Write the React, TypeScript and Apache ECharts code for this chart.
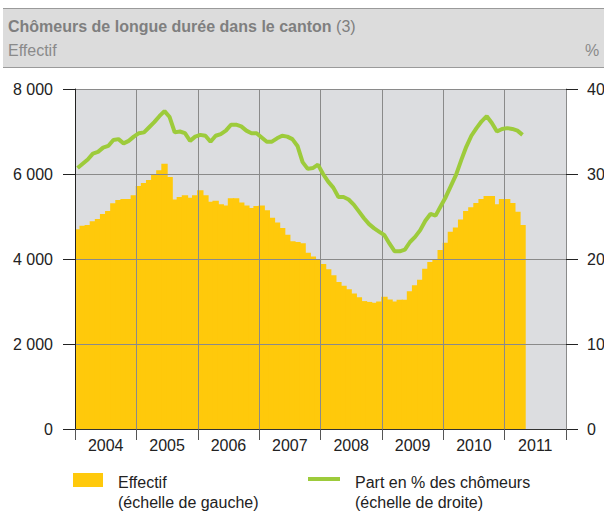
import React, { useEffect, useRef } from "react";
import * as echarts from "echarts";

// Years shown on the x axis
const years = ["2004", "2005", "2006", "2007", "2008", "2009", "2010", "2011"];
// Monthly categories (Jan 2004 .. Dec 2011)
const months: string[] = [];
years.forEach((y) => {
  for (let m = 1; m <= 12; m++) months.push(`${y}-${m < 10 ? "0" + m : m}`);
});

// Effectif (left scale), monthly Jan 2004 .. Apr 2011
const effectif = [
  4700, 4780, 4800, 4890, 4940, 5060, 5130, 5310, 5390, 5410, 5410, 5500,
  5720, 5790, 5860, 5980, 6090, 6240, 5930, 5400, 5460, 5500, 5440, 5500,
  5620, 5500, 5350, 5370, 5290, 5260, 5430, 5430, 5330, 5260, 5200, 5250,
  5260, 5150, 4970, 4860, 4730, 4570, 4420, 4400, 4370, 4150, 4060, 3990,
  3880, 3760, 3620, 3460, 3370, 3290, 3190, 3100, 3010, 2990, 2970, 3000,
  3110, 3050, 3000, 3040, 3040, 3240, 3380, 3510, 3770, 3930, 3990, 4210,
  4380, 4640, 4740, 4930, 5130, 5220, 5320, 5410, 5480, 5480, 5290, 5410,
  5410, 5320, 5110, 4800,
];

// Part en % des chômeurs (right scale)
const part = [
  30.7, 31.2, 31.7, 32.4, 32.6, 33.1, 33.3, 34.0, 34.1, 33.6, 33.9, 34.4,
  34.8, 34.9, 35.5, 36.1, 36.8, 37.4, 36.7, 34.9, 35.0, 34.8, 33.9, 34.4,
  34.6, 34.5, 33.8, 34.5, 34.7, 35.1, 35.8, 35.8, 35.6, 35.1, 34.8, 34.8,
  34.3, 33.8, 33.8, 34.2, 34.5, 34.4, 34.1, 33.3, 31.4, 30.6, 30.7, 31.1,
  30.0, 29.1, 28.4, 27.3, 27.3, 27.0, 26.4, 25.6, 24.8, 24.1, 23.6, 23.2,
  22.8, 21.8, 20.9, 20.9, 21.1, 22.0, 22.6, 23.4, 24.5, 25.3, 25.1, 26.2,
  27.3, 28.6, 29.9, 31.6, 33.2, 34.5, 35.4, 36.2, 36.8, 36.0, 35.0, 35.3,
  35.4, 35.3, 35.1, 34.6,
];

const leftTicks = { min: 0, max: 8000, interval: 2000 };
const rightTicks = { min: 0, max: 40, interval: 10 };

const YELLOW = "#FFC90B";
const GREEN = "#9DCB3B";
const GRID = "#8a8a8a";
const FONT = "Liberation Sans";

export default function App() {
  const ref = useRef<HTMLDivElement>(null);
  useEffect(() => {
    if (!ref.current) return;
    const chart = echarts.init(ref.current, undefined, { renderer: "svg" });
    chart.setOption({
      animation: false,
      textStyle: { fontFamily: FONT },
      grid: {
        left: 75,
        right: 38,
        top: 89,
        bottom: 82,
        show: true,
        backgroundColor: "#dcdde0",
        borderWidth: 0,
        outerBoundsMode: "none",
      },
      xAxis: [
        {
          type: "category",
          data: months,
          show: false,
          position: "bottom",
          boundaryGap: true,
        },
        {
          type: "category",
          data: years,
          position: "bottom",
          boundaryGap: true,
          z: 3,
          axisLine: { show: true, lineStyle: { color: "#333", width: 1 } },
          axisTick: { show: true, length: 11, lineStyle: { color: "#555" } },
          axisLabel: { margin: 8, fontSize: 16, color: "#222", fontFamily: FONT },
          splitLine: { show: true, lineStyle: { color: GRID, width: 1 } },
        },
      ],
      yAxis: [
        {
          type: "value",
          position: "left",
          ...leftTicks,
          z: 3,
          axisLine: { show: true, lineStyle: { color: "#222" } },
          axisTick: { show: true, length: 12, lineStyle: { color: "#222" } },
          axisLabel: {
            margin: 22,
            fontSize: 16,
            color: "#222",
            fontFamily: FONT,
            formatter: (v: number) => (v === 0 ? "0" : `${v / 1000} 000`),
          },
          splitLine: { show: true, lineStyle: { color: GRID, width: 1 } },
        },
        {
          type: "value",
          position: "right",
          ...rightTicks,
          z: 3,
          axisLine: { show: true, lineStyle: { color: GRID } },
          axisTick: { show: true, length: 12, lineStyle: { color: "#222" } },
          axisLabel: { margin: 21, fontSize: 16, color: "#222", fontFamily: FONT },
          splitLine: { show: false },
        },
      ],
      series: [
        {
          name: "Effectif",
          type: "bar",
          xAxisIndex: 0,
          yAxisIndex: 0,
          data: effectif,
          barWidth: "125%",
          z: 1,
          itemStyle: { color: YELLOW },
        },
        {
          name: "Part en % des chômeurs",
          type: "line",
          xAxisIndex: 0,
          yAxisIndex: 1,
          data: part,
          z: 5,
          symbol: "none",
          lineStyle: { color: GREEN, width: 4 },
        },
      ],
      graphic: [
        {
          type: "rect",
          shape: { x: 3, y: 8, width: 601, height: 60 },
          style: { fill: "#dcdcdc" },
        },
        {
          type: "line",
          shape: { x1: 3, y1: 8.5, x2: 604, y2: 8.5 },
          style: { stroke: "#9a9a9a", lineWidth: 1 },
        },
        {
          type: "line",
          shape: { x1: 3, y1: 67.5, x2: 604, y2: 67.5 },
          style: { stroke: "#9a9a9a", lineWidth: 1 },
        },
        {
          type: "text",
          x: 8,
          y: 18,
          style: {
            text: "{b|Chômeurs de longue durée dans le canton} (3)",
            font: `16px "${FONT}"`,
            fill: "#7f7f7f",
            rich: { b: { fontWeight: "bold", fontSize: 16, fill: "#7f7f7f", fontFamily: FONT } },
          },
        },
        {
          type: "text",
          x: 8,
          y: 42,
          style: { text: "Effectif", font: `16px "${FONT}"`, fill: "#8a8a8a" },
        },
        {
          type: "text",
          x: 585,
          y: 42,
          style: { text: "%", font: `16px "${FONT}"`, fill: "#8a8a8a" },
        },
        {
          type: "rect",
          shape: { x: 73, y: 473, width: 30, height: 14 },
          style: { fill: YELLOW },
        },
        {
          type: "text",
          x: 118,
          y: 472,
          style: {
            text: "Effectif\n(échelle de gauche)",
            font: `16px "${FONT}"`,
            fill: "#222",
            lineHeight: 20,
          },
        },
        {
          type: "line",
          shape: { x1: 308, y1: 479, x2: 340, y2: 479 },
          style: { stroke: GREEN, lineWidth: 4 },
        },
        {
          type: "text",
          x: 355,
          y: 472,
          style: {
            text: "Part en % des chômeurs\n(échelle de droite)",
            font: `16px "${FONT}"`,
            fill: "#222",
            lineHeight: 20,
          },
        },
      ],
    });
    return () => chart.dispose();
  }, []);
  return (
    <div
      ref={ref}
      style={{ position: "absolute", left: 0, top: 0, width: 604, height: 511 }}
    />
  );
}
